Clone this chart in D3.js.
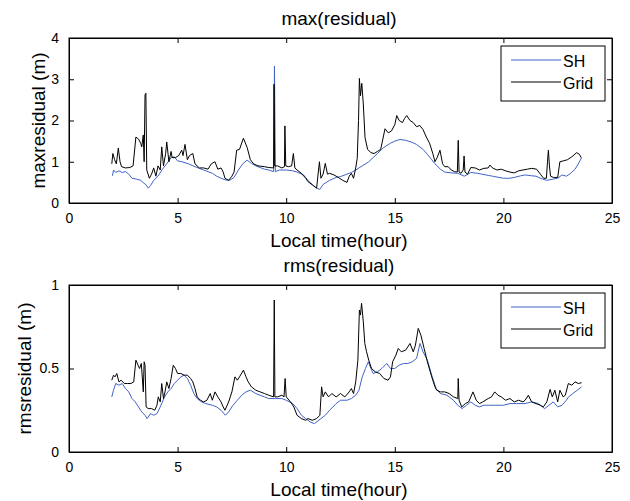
<!DOCTYPE html>
<html>
<head>
<meta charset="utf-8">
<script src="https://cdn.jsdelivr.net/npm/d3@7"></script>
<style>
  body { margin: 0; background: #fff; }
  svg { font-family: "Liberation Sans", Arial, sans-serif; }
</style>
</head>
<body>
<div id="chart"></div>
<script>
// [hour, value]
const maxSH = [[2.0,0.66],[2.05,0.8],[2.15,0.74],[2.3,0.78],[2.45,0.74],[2.6,0.76],[2.75,0.7],[2.9,0.6],[3.1,0.58],[3.3,0.55],[3.45,0.48],[3.55,0.44],[3.65,0.36],[3.75,0.42],[3.9,0.55],[4.1,0.65],[4.3,0.82],[4.5,0.95],[4.7,1.1],[4.85,1.12],[5.0,1.02],[5.2,1.0],[5.5,0.95],[5.8,0.88],[6.0,0.84],[6.2,0.8],[6.4,0.76],[6.6,0.72],[6.8,0.65],[7.0,0.6],[7.2,0.56],[7.4,0.55],[7.6,0.62],[7.8,0.8],[8.0,0.95],[8.2,1.04],[8.4,0.96],[8.6,0.9],[8.8,0.86],[9.0,0.82],[9.2,0.8],[9.42,0.76],[9.46,3.32],[9.5,0.76],[9.7,0.8],[10.0,0.8],[10.3,0.78],[10.5,0.75],[10.8,0.68],[11.0,0.55],[11.2,0.45],[11.4,0.36],[11.55,0.33],[11.7,0.45],[12.0,0.55],[12.3,0.62],[12.5,0.64],[12.8,0.7],[13.0,0.74],[13.2,0.8],[13.5,0.9],[13.8,1.0],[14.0,1.1],[14.2,1.2],[14.5,1.35],[14.8,1.45],[15.0,1.5],[15.24,1.54],[15.5,1.52],[15.8,1.47],[16.0,1.42],[16.3,1.3],[16.5,1.18],[16.7,1.05],[16.85,0.95],[17.1,0.82],[17.3,0.75],[17.6,0.73],[17.9,0.72],[18.2,0.65],[18.5,0.74],[18.8,0.72],[19.0,0.7],[19.3,0.67],[19.5,0.65],[19.8,0.62],[20.0,0.6],[20.3,0.6],[20.5,0.62],[20.8,0.66],[21.0,0.68],[21.3,0.66],[21.5,0.65],[21.8,0.58],[22.0,0.55],[22.3,0.58],[22.5,0.6],[22.7,0.68],[22.9,0.65],[23.1,0.72],[23.3,0.82],[23.45,0.95],[23.6,1.1]];

const maxGrid = [[1.97,0.95],[2.02,1.2],[2.1,1.05],[2.18,0.95],[2.27,1.33],[2.35,1.0],[2.42,0.88],[2.6,0.85],[2.8,0.86],[2.95,0.9],[3.08,1.6],[3.2,1.55],[3.3,1.45],[3.35,1.36],[3.42,1.65],[3.46,1.0],[3.5,2.62],[3.54,2.66],[3.58,0.8],[3.7,0.6],[3.8,0.7],[3.9,0.85],[4.0,0.65],[4.1,0.9],[4.2,0.8],[4.27,1.36],[4.35,0.9],[4.45,1.2],[4.5,1.48],[4.6,1.0],[4.7,1.25],[4.75,1.1],[4.9,1.1],[5.05,1.15],[5.19,1.28],[5.25,1.15],[5.34,1.42],[5.45,1.05],[5.55,1.15],[5.7,1.2],[5.8,0.95],[6.0,0.85],[6.2,0.85],[6.4,0.82],[6.55,0.95],[6.72,1.0],[6.85,0.82],[7.0,0.85],[7.1,0.75],[7.18,0.6],[7.35,0.55],[7.5,0.65],[7.6,0.75],[7.72,1.28],[7.85,1.3],[8.03,1.57],[8.2,1.35],[8.35,1.05],[8.5,0.95],[8.7,0.9],[9.0,0.88],[9.2,0.86],[9.42,0.85],[9.44,2.88],[9.47,0.9],[9.6,0.9],[9.8,0.85],[9.92,0.88],[9.94,1.87],[9.98,0.9],[10.1,0.88],[10.25,0.9],[10.33,1.2],[10.4,0.85],[10.5,0.8],[10.7,0.72],[10.9,0.6],[11.0,0.52],[11.2,0.44],[11.4,0.36],[11.53,1.0],[11.6,0.6],[11.7,0.7],[11.8,0.96],[11.9,0.7],[12.0,0.72],[12.2,0.68],[12.4,0.62],[12.6,0.55],[12.8,0.5],[12.9,0.65],[13.0,0.72],[13.1,0.6],[13.2,0.85],[13.27,1.08],[13.33,2.0],[13.37,3.02],[13.42,2.6],[13.48,2.9],[13.55,2.4],[13.63,1.58],[13.75,1.3],[13.9,1.22],[14.05,1.2],[14.2,1.25],[14.35,1.3],[14.45,1.55],[14.55,1.8],[14.7,1.7],[14.85,1.75],[15.0,1.9],[15.09,2.12],[15.2,2.0],[15.35,1.95],[15.45,2.05],[15.55,2.12],[15.7,2.0],[15.85,1.95],[16.0,1.85],[16.15,1.88],[16.3,1.78],[16.45,1.6],[16.6,1.45],[16.75,1.2],[16.85,1.0],[16.95,1.1],[17.08,1.28],[17.2,0.95],[17.3,0.88],[17.46,0.88],[17.6,0.8],[17.75,0.76],[17.88,0.75],[17.92,1.52],[17.96,0.75],[18.05,0.72],[18.15,0.8],[18.19,1.14],[18.23,0.75],[18.35,0.7],[18.5,0.86],[18.7,0.85],[18.9,0.8],[19.1,0.84],[19.3,0.85],[19.38,0.92],[19.5,0.85],[19.7,0.8],[19.9,0.82],[20.1,0.78],[20.3,0.75],[20.5,0.73],[20.7,0.78],[20.9,0.8],[21.1,0.82],[21.3,0.84],[21.53,0.82],[21.7,0.7],[21.85,0.6],[21.98,0.6],[22.03,1.0],[22.07,1.28],[22.12,0.9],[22.17,0.65],[22.3,0.62],[22.5,0.62],[22.6,1.0],[22.75,1.02],[22.95,1.05],[23.15,1.12],[23.37,1.22],[23.5,1.18],[23.58,1.1]];

const rmsSH = [[1.97,0.33],[2.05,0.37],[2.15,0.41],[2.3,0.4],[2.45,0.41],[2.6,0.38],[2.75,0.36],[2.9,0.32],[3.05,0.3],[3.2,0.27],[3.35,0.24],[3.5,0.22],[3.6,0.2],[3.75,0.23],[3.9,0.22],[4.05,0.23],[4.2,0.27],[4.4,0.33],[4.55,0.36],[4.7,0.38],[4.85,0.41],[5.0,0.43],[5.15,0.45],[5.3,0.46],[5.45,0.44],[5.6,0.4],[5.75,0.35],[5.9,0.32],[6.1,0.3],[6.3,0.29],[6.6,0.28],[6.8,0.27],[7.0,0.25],[7.2,0.22],[7.35,0.24],[7.55,0.28],[7.75,0.31],[7.95,0.34],[8.15,0.36],[8.35,0.37],[8.6,0.35],[8.8,0.34],[9.0,0.33],[9.2,0.32],[9.5,0.32],[9.8,0.32],[10.0,0.31],[10.3,0.29],[10.5,0.26],[10.7,0.22],[10.9,0.2],[11.1,0.18],[11.3,0.17],[11.6,0.2],[11.8,0.22],[12.0,0.25],[12.3,0.29],[12.5,0.31],[12.8,0.31],[13.0,0.32],[13.2,0.34],[13.35,0.37],[13.5,0.45],[13.65,0.5],[13.78,0.54],[13.9,0.5],[14.0,0.47],[14.2,0.48],[14.4,0.5],[14.63,0.53],[14.8,0.5],[15.0,0.5],[15.2,0.52],[15.4,0.53],[15.6,0.53],[15.8,0.54],[16.0,0.56],[16.16,0.65],[16.3,0.6],[16.5,0.55],[16.7,0.46],[16.9,0.38],[17.1,0.35],[17.4,0.34],[17.7,0.31],[17.9,0.28],[18.1,0.26],[18.3,0.28],[18.5,0.3],[18.7,0.28],[18.9,0.27],[19.1,0.28],[19.3,0.28],[19.6,0.28],[20.0,0.28],[20.3,0.29],[20.6,0.29],[21.0,0.29],[21.3,0.3],[21.6,0.29],[21.9,0.26],[22.1,0.28],[22.3,0.3],[22.5,0.27],[22.7,0.28],[22.9,0.31],[23.0,0.33],[23.2,0.35],[23.4,0.37],[23.6,0.39]];

const rmsGrid = [[1.97,0.43],[2.05,0.46],[2.12,0.45],[2.2,0.47],[2.3,0.42],[2.4,0.43],[2.55,0.41],[2.7,0.41],[2.85,0.41],[2.98,0.42],[3.08,0.55],[3.18,0.52],[3.25,0.5],[3.33,0.53],[3.42,0.36],[3.46,0.54],[3.5,0.52],[3.55,0.27],[3.65,0.26],[3.8,0.26],[3.95,0.25],[4.05,0.28],[4.11,0.33],[4.2,0.3],[4.27,0.41],[4.35,0.32],[4.42,0.36],[4.5,0.42],[4.6,0.38],[4.7,0.44],[4.8,0.52],[4.9,0.5],[5.0,0.47],[5.15,0.47],[5.3,0.46],[5.45,0.46],[5.6,0.44],[5.7,0.42],[5.8,0.38],[5.9,0.33],[6.05,0.31],[6.2,0.3],[6.35,0.31],[6.5,0.35],[6.6,0.31],[6.72,0.36],[6.85,0.33],[7.0,0.3],[7.1,0.27],[7.18,0.25],[7.35,0.3],[7.5,0.36],[7.64,0.45],[7.75,0.43],[7.85,0.45],[8.03,0.49],[8.15,0.45],[8.25,0.42],[8.4,0.39],[8.6,0.37],[8.8,0.36],[9.0,0.35],[9.2,0.34],[9.42,0.33],[9.45,0.91],[9.48,0.33],[9.6,0.33],[9.8,0.34],[9.9,0.33],[9.95,0.44],[10.0,0.33],[10.2,0.3],[10.35,0.27],[10.5,0.22],[10.7,0.2],[10.9,0.19],[11.0,0.2],[11.2,0.19],[11.4,0.2],[11.55,0.22],[11.63,0.39],[11.7,0.33],[11.8,0.36],[11.95,0.33],[12.1,0.35],[12.3,0.33],[12.5,0.35],[12.7,0.33],[12.9,0.36],[13.0,0.38],[13.1,0.35],[13.2,0.42],[13.3,0.55],[13.37,0.85],[13.42,0.82],[13.47,0.89],[13.55,0.78],[13.62,0.65],[13.7,0.6],[13.8,0.55],[13.93,0.5],[14.1,0.48],[14.3,0.47],[14.5,0.44],[14.69,0.43],[14.8,0.45],[14.9,0.54],[15.05,0.58],[15.16,0.62],[15.3,0.6],[15.5,0.61],[15.7,0.65],[15.85,0.6],[15.95,0.64],[16.08,0.74],[16.2,0.7],[16.35,0.62],[16.5,0.54],[16.7,0.45],[16.85,0.39],[16.93,0.37],[17.1,0.36],[17.3,0.36],[17.5,0.35],[17.7,0.33],[17.9,0.32],[17.92,0.44],[17.96,0.31],[18.08,0.27],[18.25,0.29],[18.4,0.3],[18.6,0.36],[18.75,0.31],[18.9,0.29],[19.05,0.3],[19.3,0.32],[19.45,0.33],[19.6,0.36],[19.75,0.34],[19.9,0.33],[20.1,0.31],[20.3,0.32],[20.5,0.3],[20.7,0.31],[20.9,0.3],[21.0,0.31],[21.15,0.34],[21.3,0.3],[21.5,0.29],[21.7,0.28],[21.84,0.27],[22.0,0.3],[22.15,0.375],[22.25,0.33],[22.37,0.37],[22.5,0.3],[22.6,0.37],[22.75,0.33],[22.85,0.34],[22.99,0.41],[23.15,0.4],[23.3,0.42],[23.45,0.41],[23.6,0.415]];

const xTicks = [0, 5, 10, 15, 20, 25];
const maxTicks = [0, 1, 2, 3, 4];
const rmsTicks = [0, 0.5, 1];
const seriesNames = ["SH", "Grid"];
const seriesColors = ["#4063c8", "#000000"];

const width = 630, height = 501;
const svg = d3.select("#chart").append("svg")
    .attr("width", width)
    .attr("height", height);

const x = d3.scaleLinear().domain([0, 25]).range([69, 612]);
const fmt = d3.format("~g");

function drawPanel(top, bottom, yMax, yTicks, title, ylabel, labelX, sh, grid) {
    const y = d3.scaleLinear().domain([0, yMax]).range([bottom, top]);
    const g = svg.append("g");

    // lines
    const line = d3.line().x(d => x(d[0])).y(d => y(d[1]));
    g.append("path").datum(sh)
        .attr("d", line).attr("fill", "none")
        .attr("stroke", seriesColors[0]).attr("stroke-width", 1);
    g.append("path").datum(grid)
        .attr("d", line).attr("fill", "none")
        .attr("stroke", seriesColors[1]).attr("stroke-width", 1);

    // axes, ticks pointing inward like matlab
    g.append("g").attr("transform", `translate(0,${bottom})`)
        .call(d3.axisBottom(x).tickValues(xTicks).tickFormat(fmt).tickSizeInner(-5).tickSizeOuter(0).tickPadding(10));
    g.append("g").attr("transform", `translate(0,${top})`)
        .call(d3.axisTop(x).tickValues(xTicks).tickSizeInner(-5).tickSizeOuter(0).tickFormat(""));
    g.append("g").attr("transform", "translate(69,0)")
        .call(d3.axisLeft(y).tickValues(yTicks).tickFormat(fmt).tickSizeInner(-5).tickSizeOuter(0).tickPadding(10));
    g.append("g").attr("transform", "translate(612,0)")
        .call(d3.axisRight(y).tickValues(yTicks).tickSizeInner(-5).tickSizeOuter(0).tickFormat(""));
    g.selectAll(".domain").attr("stroke", "#000");
    g.selectAll(".tick line").attr("stroke", "#000");
    g.selectAll(".tick text").attr("font-size", 14).attr("fill", "#000")
        .attr("font-family", "Liberation Sans, Arial, sans-serif");

    g.append("rect")
        .attr("x", 69).attr("y", top)
        .attr("width", 612 - 69).attr("height", bottom - top)
        .attr("fill", "none").attr("stroke", "#000");

    g.append("text")
        .attr("x", 339).attr("y", top - 13)
        .attr("text-anchor", "middle").attr("font-size", 19)
        .text(title);
    g.append("text")
        .attr("x", 339).attr("y", bottom + 44)
        .attr("text-anchor", "middle").attr("font-size", 19)
        .text("Local time(hour)");
    g.append("text")
        .attr("transform", `translate(${labelX},${(top + bottom) / 2}) rotate(-90)`)
        .attr("text-anchor", "middle").attr("font-size", 19)
        .text(ylabel);

    // legend
    const lg = g.append("g").attr("transform", `translate(501,${top + 8})`);
    lg.append("rect").attr("width", 104).attr("height", 55)
        .attr("fill", "#fff").attr("stroke", "#000");
    seriesNames.forEach((name, i) => {
        lg.append("line")
            .attr("x1", 10).attr("x2", 60)
            .attr("y1", 14 + i * 22).attr("y2", 14 + i * 22)
            .attr("stroke", seriesColors[i]);
        lg.append("text")
            .attr("x", 62).attr("y", 21 + i * 22)
            .attr("font-size", 16)
            .text(name);
    });
}

drawPanel(38, 203, 4, maxTicks, "max(residual)", "maxresidual (m)", 45, maxSH, maxGrid);
drawPanel(285, 452, 1, rmsTicks, "rms(residual)", "rmsresidual (m)", 31, rmsSH, rmsGrid);
</script>
</body>
</html>
